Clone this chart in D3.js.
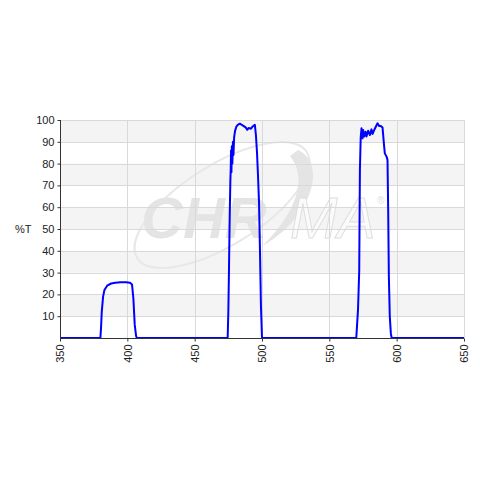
<!DOCTYPE html>
<html>
<head>
<meta charset="utf-8">
<script src="https://cdn.jsdelivr.net/npm/d3@7"></script>
<style>
  body { margin: 0; background: #fff; }
  svg { display: block; font-family: "Liberation Sans", Arial, sans-serif; }
</style>
</head>
<body>
<svg id="chart" width="480" height="480"></svg>
<script>
// transmission curve
const wavelength = [350, 380, 380.5, 381, 382, 383, 385, 388, 391, 395, 399, 402, 403.5, 404.5, 405.5, 406.5, 407,
  474.5, 475, 475.5, 476, 476.5, 476.8, 477, 477.3, 477.6, 478, 478.4, 478.8, 479.3, 480, 481, 482, 483.5, 485, 486.5,
  488, 489, 490, 491.8, 493, 494.7, 495.5, 496.3, 497, 497.8, 498.5, 499.2, 500,
  570, 570.6, 571.3, 572.2, 572.7, 573.3, 573.9, 574.6, 575.1, 575.9, 576.9, 577.6, 578.8, 580.1, 581.3, 582.1, 583.3,
  584.5, 585.8, 587, 588.3, 589.5, 590.5, 591.2, 592.5, 593.2, 593.7, 594.2, 594.9, 595.7, 596.3, 650];
const transmission = [0, 0, 5, 12, 19, 22, 24, 25, 25.3, 25.6, 25.6, 25.3, 24.5, 18, 6, 1, 0,
  0, 12, 32, 55, 72, 78, 86, 76, 88, 80, 90, 84, 92, 95, 97, 97.8, 98.3, 97.8, 97.2,
  96.5, 95.5, 96.3, 96, 97, 97.8, 93, 85, 75, 62, 40, 15, 0,
  0, 6, 13, 31, 77, 92, 96.2, 91.6, 95.4, 92.4, 94.6, 92.4, 95.1, 93.1, 95.7, 93.6, 95.4,
  96.9, 98.5, 97.2, 97.2, 96.6, 89.3, 84.7, 83.2, 81.7, 58.7, 28.1, 9.8, 2, 0, 0];
const xTicks = [350, 400, 450, 500, 550, 600, 650];
const yTicks = [10, 20, 30, 40, 50, 60, 70, 80, 90, 100];
const yBands = [[90, 100], [70, 80], [50, 60], [30, 40], [10, 20]];

const svg = d3.select("#chart");
const pl = 60, pr = 464, pt = 120, pb = 338;

const x = d3.scaleLinear().domain([350, 650]).range([pl, pr]);
const y = d3.scaleLinear().domain([0, 100]).range([pb, pt]);

// alternating bands
svg.append("g").selectAll("rect")
  .data(yBands)
  .join("rect")
  .attr("x", pl).attr("width", pr - pl)
  .attr("y", d => y(d[1])).attr("height", d => y(d[0]) - y(d[1]))
  .attr("fill", "#f4f4f4");

// watermark logo
const wm = svg.append("g");
wm.append("ellipse")
  .attr("cx", 222).attr("cy", 205).attr("rx", 100).attr("ry", 40)
  .attr("transform", "rotate(-32,222,205)")
  .attr("fill", "none").attr("stroke", "#e8e8e8").attr("stroke-width", 2);
wm.append("path")
  .attr("d", "M298,150 C330,165 308,222 262,246 C292,218 310,180 290,156 Z")
  .attr("fill", "#e4e4e4");
wm.append("text")
  .attr("x", 141).attr("y", 238)
  .attr("font-size", 58).attr("font-weight", "bold").attr("font-style", "italic")
  .attr("fill", "#e4e4e4")
  .text("CHR");
wm.append("text")
  .attr("x", 290).attr("y", 238)
  .attr("font-size", 57).attr("font-style", "italic")
  .attr("fill", "#fbfbfb").attr("stroke", "#dedede").attr("stroke-width", 1)
  .text("MA");
wm.append("text")
  .attr("x", 377).attr("y", 204)
  .attr("font-size", 10).attr("fill", "#e0e0e0")
  .text("®");

// grid
const grid = svg.append("g").attr("stroke", "#d9d9d9").attr("stroke-width", 1);
grid.selectAll("line.h")
  .data(yTicks)
  .join("line")
  .attr("class", "h")
  .attr("x1", pl).attr("x2", pr)
  .attr("y1", d => Math.round(y(d)) + 0.5).attr("y2", d => Math.round(y(d)) + 0.5);
grid.selectAll("line.v")
  .data(xTicks.slice(1))
  .join("line")
  .attr("class", "v")
  .attr("y1", pt).attr("y2", pb)
  .attr("x1", d => Math.round(x(d)) + 0.5).attr("x2", d => Math.round(x(d)) + 0.5);

// curve
const line = d3.line().x((d, i) => x(wavelength[i])).y(d => y(d));
svg.append("path")
  .datum(transmission)
  .attr("d", line)
  .attr("fill", "none")
  .attr("stroke", "#0000ff")
  .attr("stroke-width", 2)
  .attr("stroke-linejoin", "round");

// axes
const yAxis = svg.append("g")
  .attr("transform", `translate(${pl + 0.5},0)`)
  .call(d3.axisLeft(y).tickValues(yTicks).tickSize(3).tickPadding(3));
yAxis.select(".domain").attr("d", `M0,${pt}V${pb}`).attr("stroke", "#333");
yAxis.selectAll("text").attr("font-size", 11).attr("fill", "#222");
yAxis.selectAll(".tick line").attr("stroke", "#333");

const xAxis = svg.append("g")
  .attr("transform", `translate(0,${pb + 0.5})`)
  .call(d3.axisBottom(x).tickValues(xTicks).tickSize(3).tickFormat(d3.format("d")));
xAxis.select(".domain").attr("d", `M${pl},0H${pr}`).attr("stroke", "#333");
xAxis.selectAll(".tick line").attr("stroke", "#333");
xAxis.selectAll("text")
  .attr("font-size", 11).attr("fill", "#222")
  .attr("transform", "rotate(-90)")
  .attr("text-anchor", "end")
  .attr("x", -6).attr("y", 0).attr("dy", "0.35em");

svg.append("text")
  .attr("x", 15).attr("y", 233)
  .attr("font-size", 11).attr("fill", "#222")
  .text("%T");
</script>
</body>
</html>
